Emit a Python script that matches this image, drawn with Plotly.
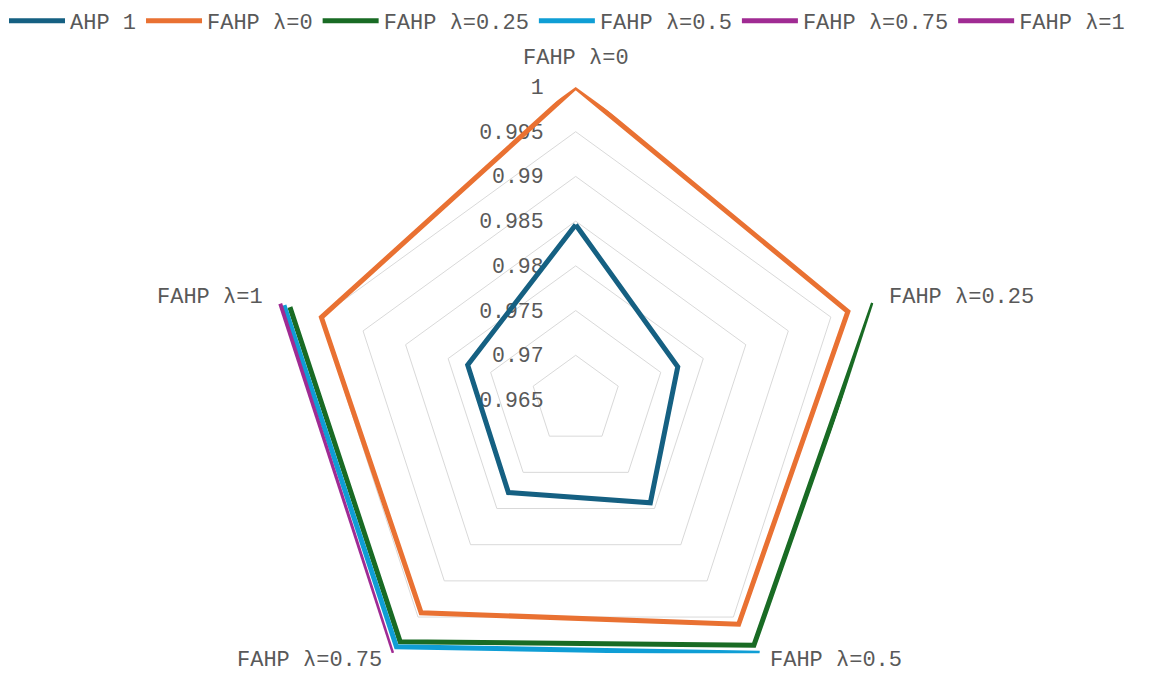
import math
import plotly.graph_objects as go

# Axes of the radar (one per FAHP lambda setting)
categories = ["FAHP λ=0", "FAHP λ=0.25", "FAHP λ=0.5", "FAHP λ=0.75", "FAHP λ=1"]

# Series values along the axes (None = cell left empty)
ahp_1 = [0.9846, 0.9770, 0.9792, 0.9778, 0.9777]
fahp_l0 = [1.0, 0.9970, 0.9960, 0.9944, 0.9949]
fahp_l025 = [None, 1.0, 0.9989, 0.9984, 0.9986]
fahp_l05 = [None, None, 1.0, 0.9991, 0.9993]
fahp_l075 = [None, None, None, 1.0, 0.9998]
fahp_l1 = [None, None, None, None, 1.0]

series_names = ["AHP 1", "FAHP λ=0", "FAHP λ=0.25", "FAHP λ=0.5", "FAHP λ=0.75", "FAHP λ=1"]
series_values = [ahp_1, fahp_l0, fahp_l025, fahp_l05, fahp_l075, fahp_l1]
series_colors = ["#156082", "#E97132", "#196B24", "#0F9ED5", "#A02B93", "#A02B93"]

radial_ticks = [0.965, 0.97, 0.975, 0.98, 0.985, 0.99, 0.995, 1.0]
radial_ticktext = ["0.965", "0.97", "0.975", "0.98", "0.985", "0.99", "0.995", "1"]

FONT = "Courier New, Liberation Mono, monospace"
TEXT_COLOR = "#595959"

W, H = 1153, 720
cx, cy, R = 575.7, 400.0, 313.0

fig = go.Figure()
for name, vals, col in zip(series_names, series_values, series_colors):
    # close the polygon by repeating the first axis
    fig.add_trace(go.Scatterpolar(
        r=vals + [vals[0]],
        theta=categories + [categories[0]],
        mode="lines",
        name=name,
        line=dict(color=col, width=5),
        connectgaps=False,
        hoverinfo="skip",
    ))

# Category labels placed just outside each spoke of the pentagon
label_offsets = {
    0: dict(dx=0, dy=-29, xanchor="center"),
    1: dict(dx=14, dy=-6, xanchor="left"),
    2: dict(dx=8, dy=7, xanchor="left"),
    3: dict(dx=-8, dy=7, xanchor="right"),
    4: dict(dx=-13, dy=-6, xanchor="right"),
}
annotations = []
n = len(categories)
for i, cat in enumerate(categories):
    ang = math.radians(90 - 360.0 / n * i)
    vx = cx + R * math.cos(ang)
    vy = cy - R * math.sin(ang)
    off = label_offsets[i]
    annotations.append(dict(
        text=cat,
        x=(vx + off["dx"]) / W,
        y=(H - (vy + off["dy"])) / H,
        xref="paper", yref="paper",
        xanchor=off["xanchor"], yanchor="middle",
        showarrow=False,
        font=dict(size=22, family=FONT, color=TEXT_COLOR),
    ))

fig.update_layout(
    width=W,
    height=H,
    margin=dict(l=0, r=0, t=0, b=0),
    paper_bgcolor="white",
    plot_bgcolor="white",
    font=dict(family=FONT, color=TEXT_COLOR),
    showlegend=True,
    annotations=annotations,
    legend=dict(
        orientation="h",
        x=4 / W,
        xanchor="left",
        y=1.0,
        yanchor="top",
        font=dict(size=22, family=FONT, color=TEXT_COLOR),
        itemwidth=56,
        bgcolor="rgba(0,0,0,0)",
    ),
    polar=dict(
        domain=dict(x=[(cx - R) / W, (cx + R) / W], y=[(H - cy - R) / H, (H - cy + R) / H]),
        bgcolor="white",
        gridshape="linear",
        angularaxis=dict(
            type="category",
            categoryarray=categories,
            rotation=90,
            direction="clockwise",
            showline=False,
            showgrid=False,
            showticklabels=False,
            ticks="",
        ),
        radialaxis=dict(
            range=[0.965, 1.0],
            tickvals=radial_ticks,
            ticktext=radial_ticktext,
            angle=90,
            tickangle=90,
            side="counterclockwise",
            showline=False,
            gridcolor="#D9D9D9",
            gridwidth=1,
            ticks="outside",
            ticklen=24,
            tickcolor="rgba(0,0,0,0)",
            tickfont=dict(size=21.5, family=FONT, color=TEXT_COLOR),
            layer="below traces",
        ),
    ),
)

fig.write_html(
    "out.html",
    post_script="document.documentElement.style.overflow='hidden';document.body.style.overflow='hidden';",
)
